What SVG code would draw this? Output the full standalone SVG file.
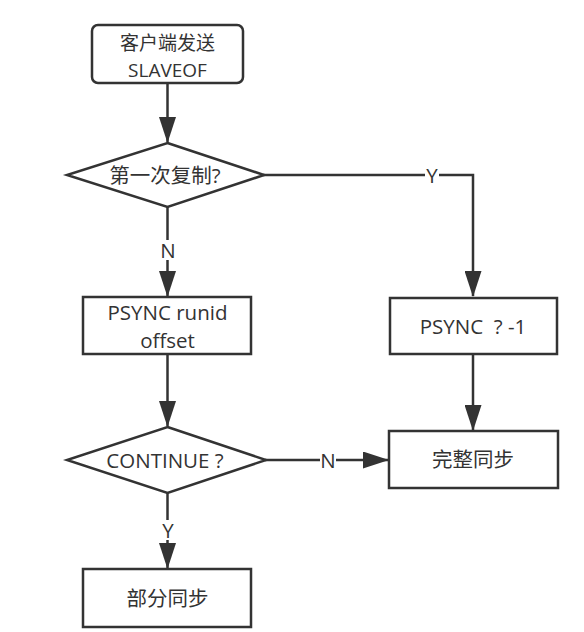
<svg xmlns="http://www.w3.org/2000/svg" width="584" height="632" viewBox="0 0 584 632">
<style>
.n{fill:#fff;stroke:#333;stroke-width:2.5}
.t{font-family:"Open Sans","Noto Sans CJK SC",sans-serif;font-size:20.5px;fill:#333;text-anchor:middle;dominant-baseline:central;white-space:pre}
.s{font-size:19px}
.c{stroke:#333;stroke-width:2.5;fill:none}
.lb{fill:#fff}
</style>
<defs>
<marker id="a" markerWidth="26" markerHeight="17" refX="25" refY="8.5" orient="auto" markerUnits="userSpaceOnUse"><path d="M0,0 L26,8.5 L0,17 Z" fill="#333"/></marker>
</defs>
<rect width="584" height="632" fill="#fff"/>
<g id="connectors">
<path class="c" d="M167.5,83 V142" marker-end="url(#a)"/>
<path class="c" d="M263,175 H473 V296" marker-end="url(#a)"/>
<path class="c" d="M167.5,206 V296" marker-end="url(#a)"/>
<path class="c" d="M167.5,354 V426" marker-end="url(#a)"/>
<path class="c" d="M473,354 V430" marker-end="url(#a)"/>
<path class="c" d="M265,460 H388" marker-end="url(#a)"/>
<path class="c" d="M167.5,493 V568" marker-end="url(#a)"/>
<rect class="lb" x="425" y="165" width="14" height="20"/>
<text class="t" x="432" y="175">Y</text>
<rect class="lb" x="160" y="240" width="16" height="20"/>
<text class="t" x="168" y="250">N</text>
<rect class="lb" x="320" y="450" width="16" height="20"/>
<text class="t" x="328" y="460">N</text>
<rect class="lb" x="161" y="520" width="14" height="20"/>
<text class="t" x="168" y="530">Y</text>
</g>
<g id="start">
<rect class="n" x="92" y="25" width="151" height="58" rx="6"/>
<text class="t s" x="167.5" y="43">客户端发送</text>
<text class="t s" x="167.5" y="70">SLAVEOF</text>
</g>
<g id="first">
<path class="n" d="M167.5,143 L264,175 L167.5,207 L67,175 Z"/>
<text class="t" x="165" y="175">第一次复制?</text>
</g>
<g id="psync-full">
<rect class="n" x="390" y="298" width="167" height="56"/>
<text class="t" x="473" y="326">PSYNC  ? -1</text>
</g>
<g id="psync-part">
<rect class="n" x="83" y="297" width="168" height="57"/>
<text class="t" x="167.5" y="312">PSYNC runid</text>
<text class="t" x="167.5" y="340">offset</text>
</g>
<g id="continue">
<path class="n" d="M167.5,427 L266,460 L167.5,493 L67,460 Z"/>
<text class="t" x="165" y="460">CONTINUE ?</text>
</g>
<g id="full">
<rect class="n" x="389" y="431" width="169" height="57"/>
<text class="t" x="473" y="459">完整同步</text>
</g>
<g id="partial">
<rect class="n" x="83" y="569" width="168" height="58"/>
<text class="t" x="167.5" y="598">部分同步</text>
</g>
</svg>
